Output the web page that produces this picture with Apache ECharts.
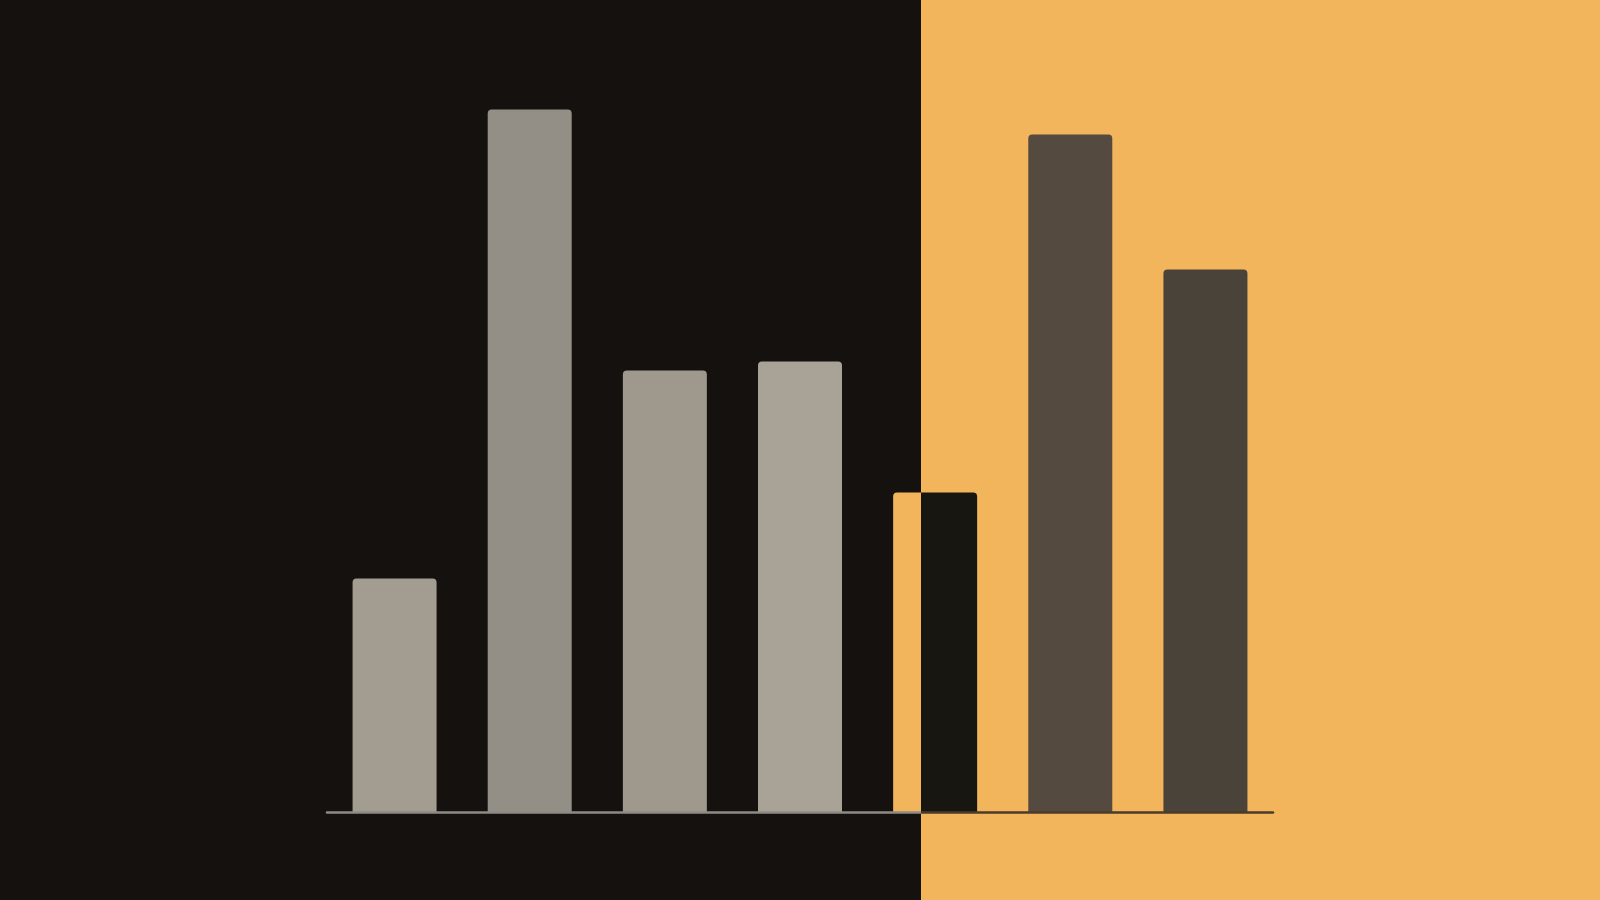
<!DOCTYPE html>
<html>
  <head>
    <meta charset="utf-8">
    <title></title>
    <style media="screen">
    html, body {margin:0; padding:0; background:#f2b55b;}
    .box {width:1600px; height:900px; overflow:hidden;}
    </style>
    <script src="https://cdn.jsdelivr.net/npm/echarts@6/dist/echarts.min.js" charset="utf-8"></script>
    <script>
    const $=document.querySelectorAll.bind(document);

    // data (no visible axis, scale 0..80)
    const categories=['1', '2', '3', '4', '5', '6', '7'];
    const values=[23.4, 70.3, 44.2, 45.1, 32.0, 67.8, 54.3];

    window.onload=function (){
      let oBox=$('.box')[0];

      // where the dark half ends and the orange half starts
      const split=921/1600;
      const dark='#15110e';
      const orange='#f2b55b';

      function splitColor(a, b){
        return {
          type: 'linear', x: 0, y: 0, x2: 1600, y2: 0, global: true,
          colorStops: [
            {offset: 0, color: a},
            {offset: split, color: a},
            {offset: split, color: b},
            {offset: 1, color: b}
          ]
        };
      }

      let barColors=['#a39c91', '#948f86', '#9f988d', '#a9a297', splitColor(orange, '#181610'), '#544a3f', '#4a4339'];

      let option={
        backgroundColor: orange,
        animation: false,
        graphic: [
          {
            type: 'rect',
            z: -10,
            shape: {x: 0, y: 0, width: 921, height: 900},
            style: {fill: dark}
          }
        ],
        grid: {left: 327, right: 327, top: 12.5, bottom: 87.5},
        xAxis: {
          type: 'category',
          data: categories,
          z: 5,
          axisLine: {lineStyle: {color: splitColor('#8e8a84', '#4a3b2a'), width: 2.5}},
          axisTick: {show: false},
          axisLabel: {show: false}
        },
        yAxis: {
          type: 'value',
          min: 0,
          max: 80,
          show: false,
          splitLine: {show: false}
        },
        series: [
          {
            type: 'bar',
            barWidth: 84,
            data: values.map((v, i)=>({value: v, itemStyle: {color: barColors[i]}})),
            itemStyle: {borderRadius: [4, 4, 0, 0]}
          }
        ]
      };

      let charts=echarts.init(oBox);
      charts.setOption(option);
    };
    </script>
  </head>
  <body>
    <div class="box"></div>
  </body>
</html>
